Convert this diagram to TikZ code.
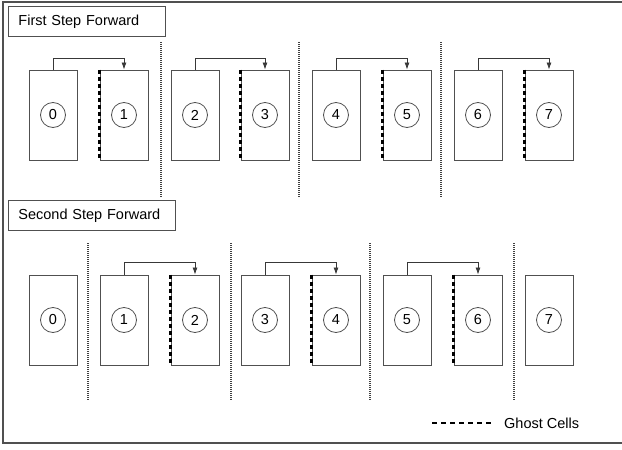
\documentclass[tikz,border=0pt]{standalone}
\usepackage{fontspec}
\setmainfont{Liberation Sans}
\usetikzlibrary{arrows.meta,positioning}

\definecolor{boxgray}{HTML}{505050}

\tikzset{
    cell/.style = {rectangle,draw=boxgray,line width=0.9pt,minimum width=48pt,minimum height=90pt,inner sep=0pt},
    rank/.style = {circle,draw=boxgray,line width=0.8pt,minimum size=25pt,inner sep=0pt},
    title/.style = {rectangle,draw=boxgray,line width=0.9pt,anchor=north west,minimum height=30pt,inner xsep=10pt,align=left},
    ghost/.style = {black,line width=2.6pt,dash pattern=on 4pt off 3pt},
    ghostleg/.style = {black,line width=2.4pt,dash pattern=on 5pt off 4pt},
    sep/.style = {black!75,line width=2.4pt,dash pattern=on 1.2pt off 0.8pt},
    send/.style = {boxgray!70!black,line width=0.8pt,-{Latex[length=7pt,width=5pt]}}
}

\begin{document}
\begin{tikzpicture}[x=1pt,y=-1pt,font=\fontsize{14.5}{17}\selectfont]
        \useasboundingbox (0,0) rectangle (622,450);
        \draw [boxgray,line width=1.2pt] (3,2) rectangle (640,443);

        % first step
        \node [title,text width=137pt] (t1) at (8,6) {First Step Forward};

        \node [cell] (a0) at (53,115) {};  \node [rank] (p0) at (a0) {0};
        \node [cell] (a1) at (124,115) {}; \node [rank] (p1) at (a1) {1};
        \node [cell] (a2) at (195,115) {}; \node [rank] (p2) at (a2) {2};
        \node [cell] (a3) at (265,115) {}; \node [rank] (p3) at (a3) {3};
        \node [cell] (a4) at (336,115) {}; \node [rank] (p4) at (a4) {4};
        \node [cell] (a5) at (407,115) {}; \node [rank] (p5) at (a5) {5};
        \node [cell] (a6) at (478,115) {}; \node [rank] (p6) at (a6) {6};
        \node [cell] (a7) at (549,115) {}; \node [rank] (p7) at (a7) {7};

        \draw [send] (a0.north) -- ++(0,-11) -| (a1.north);
        \draw [send] (a2.north) -- ++(0,-11) -| (a3.north);
        \draw [send] (a4.north) -- ++(0,-11) -| (a5.north);
        \draw [send] (a6.north) -- ++(0,-11) -| (a7.north);

        \draw [ghost] (a1.north west) -- (a1.south west);
        \draw [ghost] (a3.north west) -- (a3.south west);
        \draw [ghost] (a5.north west) -- (a5.south west);
        \draw [ghost] (a7.north west) -- (a7.south west);

        \draw [sep] (161,42) -- (161,197);
        \draw [sep] (299,42) -- (299,197);
        \draw [sep] (441,42) -- (441,197);

        % second step
        \node [title,text width=147pt] (t2) at (8,200) {Second Step Forward};

        \node [cell] (b0) at (53,320) {};  \node [rank] (q0) at (b0) {0};
        \node [cell] (b1) at (124,320) {}; \node [rank] (q1) at (b1) {1};
        \node [cell] (b2) at (195,320) {}; \node [rank] (q2) at (b2) {2};
        \node [cell] (b3) at (265,320) {}; \node [rank] (q3) at (b3) {3};
        \node [cell] (b4) at (336,320) {}; \node [rank] (q4) at (b4) {4};
        \node [cell] (b5) at (407,320) {}; \node [rank] (q5) at (b5) {5};
        \node [cell] (b6) at (478,320) {}; \node [rank] (q6) at (b6) {6};
        \node [cell] (b7) at (549,320) {}; \node [rank] (q7) at (b7) {7};

        \draw [send] (b1.north) -- ++(0,-12) -| (b2.north);
        \draw [send] (b3.north) -- ++(0,-12) -| (b4.north);
        \draw [send] (b5.north) -- ++(0,-12) -| (b6.north);

        \draw [ghost] (b2.north west) -- (b2.south west);
        \draw [ghost] (b4.north west) -- (b4.south west);
        \draw [ghost] (b6.north west) -- (b6.south west);

        \draw [sep] (88,243) -- (88,400);
        \draw [sep] (231,243) -- (231,400);
        \draw [sep] (370,243) -- (370,400);
        \draw [sep] (514,243) -- (514,400);

        % legend
        \coordinate (g0) at (432,423);
        \node [anchor=west,inner sep=0pt] (gl) at (504,423) {Ghost Cells};
        \draw [ghostleg] (g0) -- ([xshift=-12pt]gl.west);

    \end{tikzpicture}
\end{document}
